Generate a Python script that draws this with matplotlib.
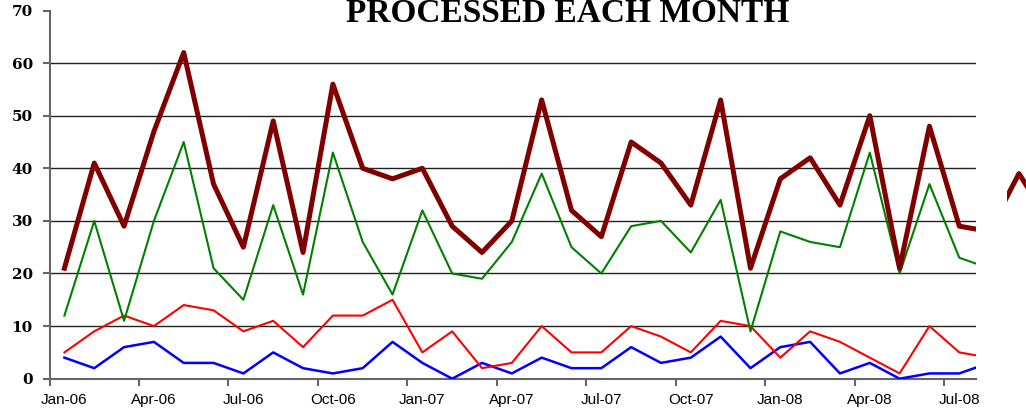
import matplotlib.pyplot as plt
from matplotlib.patches import Rectangle

# 月份标签：2006年1月到2008年10月
month_names = ['Jan', 'Feb', 'Mar', 'Apr', 'May', 'Jun',
               'Jul', 'Aug', 'Sep', 'Oct', 'Nov', 'Dec']
months = [f'{m}-{y}' for y in ['06', '07', '08'] for m in month_names][:34]

# 每月处理数量
total = [21, 41, 29, 47, 62, 37, 25, 49, 24, 56, 40, 38,
         40, 29, 24, 30, 53, 32, 27, 45, 41, 33, 53, 21,
         38, 42, 33, 50, 21, 48, 29, 28, 39, 30]
green = [12, 30, 11, 30, 45, 21, 15, 33, 16, 43, 26, 16,
         32, 20, 19, 26, 39, 25, 20, 29, 30, 24, 34, 9,
         28, 26, 25, 43, 20, 37, 23, 21]
red = [5, 9, 12, 10, 14, 13, 9, 11, 6, 12, 12, 15,
       5, 9, 2, 3, 10, 5, 5, 10, 8, 5, 11, 10,
       4, 9, 7, 4, 1, 10, 5, 4]
blue = [4, 2, 6, 7, 3, 3, 1, 5, 2, 1, 2, 7,
        3, 0, 3, 1, 4, 2, 2, 6, 3, 4, 8, 2,
        6, 7, 1, 3, 0, 1, 1, 3]

y_ticks = [0, 10, 20, 30, 40, 50, 60, 70]

fig = plt.figure(figsize=(10.26, 4.09), dpi=100)
ax = fig.add_axes([0.04825, 0.0741, 0.903, 0.9002])

ax.plot(range(len(blue)), blue, color='#0000ff', lw=1.8, zorder=3)
ax.plot(range(len(red)), red, color='#ff0000', lw=1.5, zorder=4)
ax.plot(range(len(green)), green, color='#008000', lw=1.5, zorder=5)
ax.plot(range(len(total)), total, color='#800000', lw=3.6, zorder=6)

# 右侧图外露出的一小段深红线
frag, = ax.plot(range(len(total)), total, color='#800000', lw=3.6, zorder=6)
frag.set_clip_path(Rectangle((31.6, -20), 10, 120, transform=ax.transData))

ax.set_xlim(-0.5, 30.56)
ax.set_ylim(0, 70)

# 坐标轴样式
for s in ['top', 'right']:
    ax.spines[s].set_visible(False)
for s in ['left', 'bottom']:
    ax.spines[s].set_color('#666666')
    ax.spines[s].set_linewidth(1.5)

ax.set_yticks(y_ticks)
ax.set_yticklabels([str(v) for v in y_ticks], family='DejaVu Serif',
                   fontweight='bold', fontsize=11)
ax.tick_params(axis='y', length=5, width=1.5, color='#666666', pad=7)

ax.set_xticks(range(0, 31, 3))
ax.set_xticklabels(months[0:31:3], family='Liberation Sans', fontsize=11)
ax.set_xticks([i - 0.5 for i in range(0, 31, 3)], minor=True)
ax.tick_params(axis='x', which='major', length=0, pad=10)
ax.tick_params(axis='x', which='minor', length=5, width=1.5, color='#666666')

# 网格线（顶部70处不画）
for v in y_ticks[1:-1]:
    ax.axhline(v, color='#222222', lw=1.0, zorder=1)

fig.text(568 / 1026, 1 - 22 / 409, 'PROCESSED EACH MONTH', ha='center',
         va='baseline', fontsize=24, fontweight='bold',
         family='Liberation Serif')

plt.savefig('out.png', dpi=100)
